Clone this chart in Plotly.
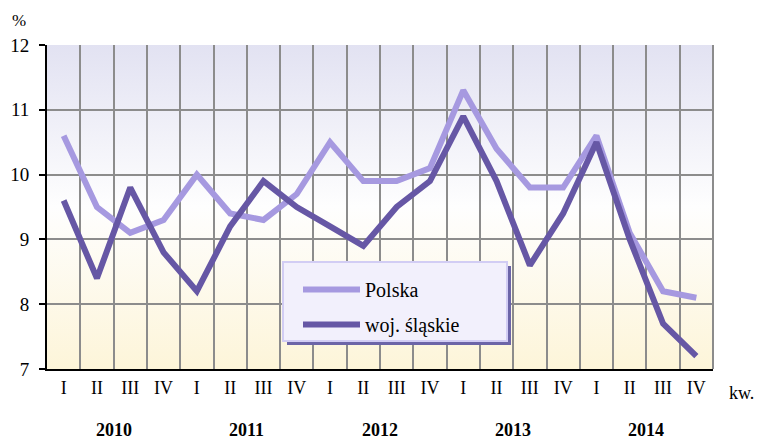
import base64
import plotly.graph_objects as go

years = ["2010", "2011", "2012", "2013", "2014"]
quarters = ["I", "II", "III", "IV"]
polska = [10.6, 9.5, 9.1, 9.3, 10.0, 9.4, 9.3, 9.7, 10.5, 9.9, 9.9, 10.1,
          11.3, 10.4, 9.8, 9.8, 10.6, 9.1, 8.2, 8.1]
slaskie = [9.6, 8.4, 9.8, 8.8, 8.2, 9.2, 9.9, 9.5, 9.2, 8.9, 9.5, 9.9,
           10.9, 9.9, 8.6, 9.4, 10.5, 9.0, 7.7, 7.2]
series_names = ["Polska", "woj. śląskie"]

cats = [f"{y} {q}" for y in years for q in quarters]
qlabels = [q for y in years for q in quarters]

FONT = "Liberation Serif, Times New Roman, DejaVu Serif, serif"

# plot-area pixel geometry (for placing decorations in paper coords)
L, R, T, B = 47, 713, 45, 369
W, H = R - L, B - T
def px(xp):
    return (xp - L) / W
def py(yp):
    return (B - yp) / H

svg = ('<svg xmlns="http://www.w3.org/2000/svg" width="10" height="100" '
       'preserveAspectRatio="none"><defs><linearGradient id="g" x1="0" y1="0" '
       'x2="0" y2="1"><stop offset="0" stop-color="#e2e2f2"/>'
       '<stop offset="0.5" stop-color="#fefefe"/>'
       '<stop offset="1" stop-color="#fdf5d9"/></linearGradient></defs>'
       '<rect width="10" height="100" fill="url(#g)"/></svg>')
src = "data:image/svg+xml;base64," + base64.b64encode(svg.encode()).decode()

fig = go.Figure()
fig.add_trace(go.Scatter(x=cats, y=polska, mode="lines", name=series_names[0],
                         line=dict(color="#a699e0", width=6), legendgroup="a"))
fig.add_trace(go.Scatter(x=cats, y=slaskie, mode="lines", name=series_names[1],
                         line=dict(color="#6657a5", width=6), legendgroup="b"))

annotations = []
for i, y in enumerate(years):
    annotations.append(dict(x=i * 4 + 1.5, xref="x", y=py(430), yref="paper",
                            xanchor="center", yanchor="middle", borderpad=0,
                            text=f"<b>{y}</b>", showarrow=False,
                            font=dict(family=FONT, size=18, color="black")))
annotations.append(dict(x=px(741), xref="paper", y=py(393), yref="paper",
                        xanchor="center", yanchor="middle",
                        text="kw.", showarrow=False,
                        font=dict(family=FONT, size=18, color="black")))
annotations.append(dict(x=px(19), xref="paper", y=py(20), yref="paper",
                        xanchor="center", yanchor="middle",
                        text="%", showarrow=False,
                        font=dict(family=FONT, size=17, color="black")))

shapes = [
    # legend shadow
    dict(type="rect", xref="paper", yref="paper",
         x0=px(287), x1=px(511), y0=py(345), y1=py(266),
         fillcolor="#6c65a8", line=dict(width=0), layer="above"),
    # legend box
    dict(type="rect", xref="paper", yref="paper",
         x0=px(283), x1=px(507), y0=py(341), y1=py(262),
         fillcolor="#f2f0fc", line=dict(color="#d2cdf4", width=2), layer="above"),
    # right border of plot area
    dict(type="line", xref="paper", yref="paper", x0=1, x1=1, y0=0, y1=1,
         line=dict(color="#8c8c8c", width=2), layer="below"),
]

fig.update_layout(
    width=758, height=441,
    margin=dict(l=L, r=758 - R, t=T, b=441 - B, autoexpand=False),
    paper_bgcolor="white",
    plot_bgcolor="rgba(0,0,0,0)",
    font=dict(family=FONT, size=18, color="black"),
    showlegend=True,
    legend=dict(x=px(298), y=py(270), xanchor="left", yanchor="top",
                bgcolor="rgba(0,0,0,0)", borderwidth=0,
                font=dict(family=FONT, size=20, color="black"),
                itemwidth=57, tracegroupgap=6),
    images=[dict(source=src, xref="paper", yref="paper", x=0, y=1,
                 sizex=1, sizey=1, sizing="stretch", xanchor="left",
                 yanchor="top", layer="below")],
    annotations=annotations,
    shapes=shapes,
    xaxis=dict(type="category", categoryorder="array", categoryarray=cats,
               tickvals=cats, ticktext=qlabels, tickson="boundaries",
               range=[-0.5, 19.5], showgrid=True, gridcolor="#8c8c8c",
               gridwidth=2, showline=True, linecolor="black", linewidth=2,
               ticks="", ticklabelstandoff=1, automargin=False,
               tickfont=dict(family=FONT, size=18, color="black")),
    yaxis=dict(range=[7, 12], tickvals=[7, 8, 9, 10, 11, 12],
               showgrid=True, gridcolor="#8c8c8c", gridwidth=2,
               showline=True, linecolor="black", linewidth=2,
               ticks="outside", ticklen=6, tickwidth=2, tickcolor="black",
               ticklabelstandoff=6, zeroline=False, automargin=False,
               tickfont=dict(family=FONT, size=19, color="black")),
)

fig.write_html("out.html",
               config={"displayModeBar": False},
               post_script="document.body.style.margin='0';"
                           "document.body.style.overflow='hidden';")
